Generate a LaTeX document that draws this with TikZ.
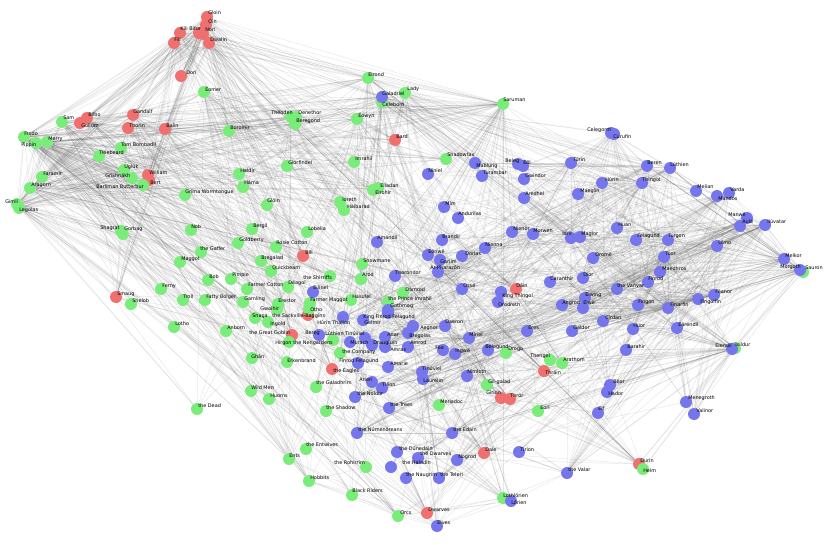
\documentclass[tikz,border=0pt]{standalone}
\usepackage{fontspec}
\setmainfont{DejaVu Sans}
\usetikzlibrary{backgrounds}
\definecolor{nr}{RGB}{240,112,112}
\definecolor{ng}{RGB}{122,236,122}
\definecolor{nb}{RGB}{118,118,236}
\pgfdeclarelayer{foreground}
\pgfsetlayers{background,main,foreground}
\newcommand\mknode[5]{\node[#1] (#2) at (#3) {};\begin{pgfonlayer}{foreground}\node[lbl] (#2-t) at (#4) {#5};\end{pgfonlayer}}
\newcommand\fan[2]{\foreach \ha in {#1}{\foreach \hb in {#2}{\draw[ed] (\ha) -- (\hb);}}}
\begin{document}
\begin{tikzpicture}[x=0.75pt,y=-0.75pt,
  nd/.style={circle,minimum size=9pt,inner sep=0pt,draw=none},
  rn/.style={nd,fill=nr}, gn/.style={nd,fill=ng}, bn/.style={nd,fill=nb},
  lbl/.style={anchor=west,inner sep=0pt,font=\fontsize{3.7pt}{4pt}\selectfont},
  ed/.style={draw=black!65,opacity=0.14,line width=0.35pt}]
\useasboundingbox (0,0) rectangle (830,545);
\begin{pgfonlayer}{background}
\fill[white] (0,0) rectangle (830,545);
\end{pgfonlayer}
% ---------- red ----------
\mknode{rn}{gloin}{207,17}{208,13}{Gloin}
\mknode{rn}{oin}{206,25}{208,21}{Óin}
\mknode{rn}{bifur}{199,33}{189,29}{Bifur}
\mknode{rn}{nori}{203,34}{205,30}{Nori}
\mknode{rn}{kili}{180,33}{180,29}{Kili}
\mknode{rn}{fili}{174,43}{174,40}{Fili}
\mknode{rn}{dwalin}{209,43}{210,40}{Dwalin}
\mknode{rn}{dori}{181,76}{186,73}{Dori}
\mknode{rn}{bilbo}{87,118}{88,115}{Bilbo}
\mknode{rn}{gollum}{80,123}{81,126}{Gollum}
\mknode{rn}{gandalf}{133,115}{133,112}{Gandalf}
\mknode{rn}{thorin}{128,128}{129,126}{Thorin}
\mknode{rn}{balin}{165,129}{166,126}{Balin}
\mknode{rn}{william}{148,175}{149,173}{William}
\mknode{rn}{bert}{149,180}{150,183}{Bert}
\mknode{rn}{bard}{395,140}{396,137}{Bard}
\mknode{rn}{bill}{303,256}{305,253}{Bill}
\mknode{rn}{smaug}{116,297}{117,294}{Smaug}
\mknode{rn}{sackville}{308,315}{272,316}{the Sackville-Baggins}
\mknode{rn}{goblin}{292,335}{249,333}{the Great Goblin}
\mknode{rn}{eagles}{332,369}{333,371}{the Eagles}
\mknode{rn}{dain}{516,289}{516,286}{Dáin}
\mknode{rn}{thrain}{544,371}{545,373}{Thráin}
\mknode{rn}{girion}{501,398}{486,393}{Girion}
\mknode{rn}{thror}{510,399}{510,396}{Thrór}
\mknode{rn}{dale}{484,453}{485,450}{Dale}
\mknode{rn}{dwarves}{427,513}{428,510}{Dwarves}
\mknode{rn}{durin}{639,464}{640,461}{Durin}
% ---------- green ----------
\mknode{gn}{eomer}{204,92}{205,89}{Éomer}
\mknode{gn}{sam}{62,122}{63,118}{Sam}
\mknode{gn}{frodo}{24,137}{24,134}{Frodo}
\mknode{gn}{pippin}{36,143}{21,145}{Pippin}
\mknode{gn}{merry}{47,142}{48,139}{Merry}
\mknode{gn}{tom}{121,148}{121,145}{Tom Bombadil}
\mknode{gn}{treebeard}{99,156}{99,153}{Treebeard}
\mknode{gn}{ugluk}{124,170}{124,167}{Uglúk}
\mknode{gn}{grishnakh}{132,178}{105,176}{Grishnákh}
\mknode{gn}{faramir}{42,177}{43,174}{Faramir}
\mknode{gn}{aragorn}{30,188}{31,185}{Aragorn}
\mknode{gn}{barliman}{143,185}{96,187}{Barliman Butterbur}
\mknode{gn}{gimli}{17,204}{5,202}{Gimli}
\mknode{gn}{legolas}{19,208}{19,210}{Legolas}
\mknode{gn}{grima}{185,195}{185,192}{Gríma Wormtongue}
\mknode{gn}{shagrat}{121,231}{100,228}{Shagrat}
\mknode{gn}{gorbag}{123,234}{124,229}{Gorbag}
\mknode{gn}{nob}{191,230}{191,227}{Nob}
\mknode{gn}{maggot}{180,262}{181,259}{Maggot}
\mknode{gn}{gaffer}{201,252}{200,249}{the Gaffer}
\mknode{gn}{ferny}{161,289}{162,286}{Ferny}
\mknode{gn}{shelob}{131,304}{132,301}{Shelob}
\mknode{gn}{troll}{183,300}{183,297}{Troll}
\mknode{gn}{lotho}{174,327}{175,324}{Lotho}
\mknode{gn}{haldir}{239,174}{240,171}{Haldir}
\mknode{gn}{hama}{243,187}{244,183}{Háma}
\mknode{gn}{gloinb}{267,205}{267,201}{Glóin}
\mknode{gn}{bergil}{252,229}{253,226}{Bergil}
\mknode{gn}{goldberry}{238,243}{239,240}{Goldberry}
\mknode{gn}{rosie}{276,247}{276,243}{Rosie Cotton}
\mknode{gn}{lobelia}{307,232}{308,229}{Lobelia}
\mknode{gn}{bregalad}{261,261}{261,258}{Bregalad}
\mknode{gn}{quickbeam}{271,271}{272,268}{Quickbeam}
\mknode{gn}{bob}{208,280}{209,277}{Bob}
\mknode{gn}{pimple}{231,279}{232,275}{Pimple}
\mknode{gn}{fcotton}{247,289}{248,285}{Farmer Cotton}
\mknode{gn}{deagol}{288,287}{288,283}{Déagol}
\mknode{gn}{shirriffs}{330,276}{303,278}{the Shirriffs}
\mknode{gn}{fatty}{205,300}{206,297}{Fatty Bolger}
\mknode{gn}{gamling}{243,302}{244,299}{Gamling}
\mknode{gn}{erestor}{278,304}{278,301}{Erestor}
\mknode{gn}{gwaihir}{277,309}{260,309}{Gwaihir}
\mknode{gn}{fmaggot}{310,303}{310,300}{Farmer Maggot}
\mknode{gn}{otho}{309,309}{310,310}{Otho}
\mknode{gn}{hasufel}{351,300}{352,297}{Hasufel}
\mknode{gn}{snowmane}{362,264}{363,261}{Snowmane}
\mknode{gn}{arod}{361,279}{362,275}{Arod}
\mknode{gn}{snaga}{255,318}{252,316}{Snaga}
\mknode{gn}{ingold}{268,322}{270,324}{Ingold}
\mknode{gn}{anborn}{226,331}{227,328}{Anborn}
\mknode{gn}{hirgon}{289,342}{275,343}{Hirgon}
\mknode{gn}{nengard}{333,340}{293,343}{the Nengardens}
\mknode{gn}{ghan}{252,358}{251,357}{Ghân}
\mknode{gn}{erkenbrand}{287,362}{287,361}{Erkenbrand}
\mknode{gn}{company}{340,353}{342,352}{the Company}
\mknode{gn}{elladan}{378,188}{380,186}{Elladan}
\mknode{gn}{elrohir}{373,190}{375,193}{Elrohir}
\mknode{gn}{ioreth}{340,202}{342,200}{Ioreth}
\mknode{gn}{halbarad}{344,210}{347,207}{Halbarad}
\mknode{gn}{elrond}{368,78}{368,75}{Elrond}
\mknode{gn}{lady}{405,93}{407,89}{Lady}
\mknode{gn}{celeborn}{382,102}{382,105}{Celeborn}
\mknode{gn}{theoden}{291,117}{271,113}{Théoden}
\mknode{gn}{denethor}{296,117}{298,113}{Denethor}
\mknode{gn}{beregond}{295,124}{296,121}{Beregond}
\mknode{gn}{eowyn}{357,119}{358,116}{Éowyn}
\mknode{gn}{boromir}{229,131}{230,128}{Boromir}
\mknode{gn}{glorfindel}{287,166}{288,163}{Glorfindel}
\mknode{gn}{imrahil}{354,162}{355,159}{Imrahil}
\mknode{gn}{saruman}{503,104}{503,100}{Saruman}
\mknode{gn}{shadowfax}{446,159}{447,155}{Shadowfax}
\mknode{gn}{damrod}{403,293}{405,290}{Damrod}
\mknode{gn}{prince}{388,302}{388,299}{the Prince Imrahil}
\mknode{gn}{drogo}{506,353}{508,349}{Drogo}
\mknode{gn}{thengel}{550,360}{530,356}{Thengel}
\mknode{gn}{arathorn}{562,363}{563,360}{Arathorn}
\mknode{gn}{gilgalad}{487,385}{488,382}{Gil-galad}
\mknode{gn}{meriadoc}{439,405}{440,402}{Meriadoc}
\mknode{gn}{eorl}{538,411}{540,408}{Eorl}
\mknode{gn}{helm}{643,469}{643,471}{Helm}
\mknode{gn}{isildur}{735,348}{735,345}{Isildur}
\mknode{gn}{sauron}{803,272}{805,268}{Sauron}
\mknode{gn}{lothlorien}{503,498}{503,496}{Lothlórien}
\mknode{gn}{orcs}{398,516}{400,513}{Orcs}
\mknode{gn}{wildmen}{251,391}{251,388}{Wild Men}
\mknode{gn}{huorns}{269,399}{270,396}{Huorns}
\mknode{gn}{galadhrim}{316,387}{316,383}{the Galadhrim}
\mknode{gn}{shadow}{326,411}{326,408}{the Shadow}
\mknode{gn}{dead}{197,409}{198,406}{the Dead}
\mknode{gn}{entwives}{306,449}{306,445}{the Entwives}
\mknode{gn}{ents}{289,459}{289,456}{Ents}
\mknode{gn}{rohirrim}{366,467}{334,463}{the Rohirrim}
\mknode{gn}{hobbits}{309,481}{310,478}{Hobbits}
\mknode{gn}{blackriders}{352,495}{352,491}{Black Riders}
% ---------- blue ----------
\mknode{bn}{galadriel}{382,97}{382,94}{Galadriel}
\mknode{bn}{niniel}{428,174}{428,171}{Níniel}
\mknode{bn}{mablung}{475,163}{476,166}{Mablung}
\mknode{bn}{turambar}{482,176}{483,173}{Turambar}
\mknode{bn}{beleg}{518,164}{505,161}{Beleg}
\mknode{bn}{eol}{523,166}{523,163}{Eöl}
\mknode{bn}{gwindor}{524,179}{525,176}{Gwindor}
\mknode{bn}{turin}{571,163}{573,160}{Túrin}
\mknode{bn}{celegorm}{611,133}{587,130}{Celegorm}
\mknode{bn}{curufin}{614,134}{613,137}{Curufin}
\mknode{bn}{beren}{647,166}{647,163}{Beren}
\mknode{bn}{luthien}{670,168}{670,165}{Lúthien}
\mknode{bn}{thingol}{642,183}{642,180}{Thingol}
\mknode{bn}{hurin}{602,183}{605,180}{Húrin}
\mknode{bn}{maeglin}{578,194}{580,191}{Maeglin}
\mknode{bn}{aredhel}{524,198}{525,194}{Aredhel}
\mknode{bn}{mim}{444,207}{445,204}{Mîm}
\mknode{bn}{anduilas}{458,218}{458,214}{Andurilas}
\mknode{bn}{nienor}{512,232}{513,229}{Nienor}
\mknode{bn}{morwen}{533,234}{533,231}{Morwen}
\mknode{bn}{idril}{571,238}{562,234}{Idril}
\mknode{bn}{maglor}{580,237}{581,234}{Maglor}
\mknode{bn}{brandir}{442,240}{442,237}{Brandir}
\mknode{bn}{nienna}{485,248}{485,245}{Nienna}
\mknode{bn}{eonwe}{428,255}{428,252}{Eönwë}
\mknode{bn}{gorlim}{440,260}{440,262}{Gorlim}
\mknode{bn}{dorlas}{462,256}{465,254}{Dorlas}
\mknode{bn}{arpharazon}{438,272}{430,268}{Ar-Pharazôn}
\mknode{bn}{orome}{593,258}{595,255}{Oromë}
\mknode{bn}{caranthir}{550,282}{550,279}{Caranthir}
\mknode{bn}{dior}{583,278}{583,275}{Dior}
\mknode{bn}{osse}{462,289}{463,286}{Ossë}
\mknode{bn}{kingthingol}{501,292}{502,296}{King Thingol}
\mknode{bn}{orodreth}{498,302}{498,305}{Orodreth}
\mknode{bn}{elwing}{585,298}{585,295}{Elwing}
\mknode{bn}{angrod}{562,305}{562,303}{Angrod}
\mknode{bn}{elwe}{583,308}{583,303}{Elwë}
\mknode{bn}{cirdan}{603,321}{605,318}{Círdan}
\mknode{bn}{aegnor}{413,326}{420,328}{Aegnor}
\mknode{bn}{daeron}{445,326}{445,322}{Daeron}
\mknode{bn}{bregolas}{408,333}{409,336}{Bregolas}
\mknode{bn}{amrod}{408,347}{410,343}{Amrod}
\mknode{bn}{fea}{443,350}{435,348}{Fëa}
\mknode{bn}{ingwe}{455,354}{455,351}{Ingwë}
\mknode{bn}{miriel}{469,338}{469,335}{Míriel}
\mknode{bn}{belegund}{488,350}{485,347}{Belegund}
\mknode{bn}{eres}{527,331}{528,328}{Eres}
\mknode{bn}{galdor}{572,331}{573,328}{Galdor}
\mknode{bn}{melian}{696,191}{697,187}{Melian}
\mknode{bn}{mandos}{717,196}{718,199}{Mandos}
\mknode{bn}{varda}{729,193}{730,190}{Varda}
\mknode{bn}{manwe}{747,218}{728,215}{Manwë}
\mknode{bn}{aule}{740,226}{742,222}{Aulë}
\mknode{bn}{iluvatar}{765,225}{767,222}{Ilúvatar}
\mknode{bn}{huan}{617,228}{618,225}{Huan}
\mknode{bn}{felagund}{636,240}{637,236}{Felagund}
\mknode{bn}{turgon}{668,240}{668,236}{Turgon}
\mknode{bn}{ulmo}{717,246}{718,243}{Ulmo}
\mknode{bn}{tuor}{664,257}{665,254}{Tuor}
\mknode{bn}{melkor}{784,259}{785,256}{Melkor}
\mknode{bn}{morgoth}{800,270}{780,267}{Morgoth}
\mknode{bn}{maedhros}{660,272}{662,269}{Maedhros}
\mknode{bn}{finrod}{648,282}{648,279}{Finrod}
\mknode{bn}{vanyar}{617,289}{617,286}{the Vanyar}
\mknode{bn}{feanor}{714,295}{715,292}{Fëanor}
\mknode{bn}{fingolfin}{698,299}{700,302}{Fingolfin}
\mknode{bn}{fingon}{638,305}{638,302}{Fingon}
\mknode{bn}{finarfin}{668,308}{670,305}{Finarfin}
\mknode{bn}{huor}{633,329}{633,326}{Huor}
\mknode{bn}{earendil}{677,328}{678,325}{Eärendil}
\mknode{bn}{barahir}{626,350}{627,347}{Barahir}
\mknode{bn}{elendil}{732,349}{715,346}{Elendil}
\mknode{bn}{beor}{610,385}{613,382}{Bëor}
\mknode{bn}{hador}{607,392}{608,394}{Hador}
\mknode{bn}{elf}{598,413}{598,409}{Elf}
\mknode{bn}{menegroth}{686,402}{688,398}{Menegroth}
\mknode{bn}{valinor}{694,414}{696,411}{Valinor}
\mknode{bn}{amandil}{377,242}{377,238}{Amandil}
\mknode{bn}{thorondor}{395,276}{395,273}{Thorondor}
\mknode{bn}{eilinel}{313,292}{313,288}{Eilinel}
\mknode{bn}{hurinthalion}{343,317}{317,323}{Húrin Thalion}
\mknode{bn}{gelmir}{363,320}{364,323}{Gelmir}
\mknode{bn}{kingfinrod}{388,313}{363,317}{King Finrod Felagund}
\mknode{bn}{gothmog}{388,310}{390,306}{Gothmog}
\mknode{bn}{bereg}{319,335}{305,333}{Bereg}
\mknode{bn}{luthtin}{350,342}{325,334}{Lúthien Tinúviel}
\mknode{bn}{anar}{385,337}{387,335}{Anar}
\mknode{bn}{murach}{365,338}{350,343}{Murach}
\mknode{bn}{draugluin}{372,345}{373,343}{Draugluin}
\mknode{bn}{amras}{385,347}{390,350}{Amras}
\mknode{bn}{finrodf}{358,363}{339,361}{Finrod Felagund}
\mknode{bn}{amarie}{388,367}{390,364}{Amarie}
\mknode{bn}{arien}{372,382}{359,380}{Arien}
\mknode{bn}{tilion}{382,388}{382,385}{Tilion}
\mknode{bn}{noldor}{355,397}{357,394}{the Noldor}
\mknode{bn}{trees}{389,408}{390,405}{the Trees}
\mknode{bn}{numenoreans}{357,433}{358,430}{the Númenóreans}
\mknode{bn}{tinuviel}{422,372}{422,369}{Tinúviel}
\mknode{bn}{laurelin}{423,379}{423,381}{Laurelin}
\mknode{bn}{nimloth}{467,376}{467,372}{Nimloth}
\mknode{bn}{edain}{452,433}{453,430}{the Edain}
\mknode{bn}{dunedain}{397,452}{399,449}{the Dúnedain}
\mknode{bn}{dwarvesb}{418,458}{420,454}{the Dwarves}
\mknode{bn}{nogrod}{457,460}{458,457}{Nogrod}
\mknode{bn}{tirion}{519,452}{520,450}{Tirion}
\mknode{bn}{valar}{567,473}{568,470}{the Valar}
\mknode{bn}{haladin}{391,467}{402,463}{the Haladin}
\mknode{bn}{naugrim}{406,478}{406,475}{the Naugrim}
\mknode{bn}{teleri}{439,478}{440,475}{the Teleri}
\mknode{bn}{lorien}{511,501}{511,503}{Lórien}
\mknode{bn}{elves}{437,526}{437,523}{Elves}
% ---------- edges ----------
\begin{pgfonlayer}{background}
\fan{gloin,oin,nori,bifur,kili,fili,dwalin}{bilbo,gandalf,thorin,balin,dori,bard,dain,thrain,thror,girion,dale,smaug,william,bert,elrond,gollum,eagles,goblin,dwarves,durin,frodo,gimli,aragorn,boromir,bill,galadriel,saruman}
\fan{gloin,oin,nori,bifur}{kili,fili,dwalin,dori}
\fan{bilbo,gandalf,thorin,balin}{dain,thrain,thror,girion,dale,smaug,eagles,goblin,bard,elrond,william,bert,gollum,dwarves,durin,saruman,shadowfax,tom,frodo,treebeard,galadriel,gwaihir,sackville,lobelia,otho,gaffer,hobbits,sam}
\fan{frodo}{sam,merry,pippin,gandalf,bilbo,gollum,aragorn,gimli,legolas,boromir,faramir,tom,treebeard,theoden,eomer,eowyn,denethor,elrond,galadriel,celeborn,saruman,glorfindel,haldir,barliman,shelob,bill,lobelia,gaffer,maggot,ferny,lotho,rosie,fatty,sackville,otho,gwaihir,fmaggot,fcotton,deagol,shirriffs,goldberry,erestor,shagrat,gorbag,grima,shadowfax,ugluk,grishnakh,nob,bob,troll,gamling,hirgon,hobbits,ents,orcs,blackriders,company,dwarves,elves,lady,lothlorien,eagles,sauron}
\fan{sam}{pippin,merry,gandalf,bilbo,gollum,aragorn,gimli,legolas,boromir,faramir,tom,treebeard,elrond,galadriel,shelob,bill,gaffer,maggot,rosie,fatty,lobelia,sackville,ferny,lotho,shagrat,gorbag,troll,hobbits,shirriffs,fcotton,bob,goldberry,elves,orcs,sauron,pimple}
\fan{merry,pippin}{gandalf,bilbo,aragorn,gimli,legolas,boromir,faramir,tom,treebeard,theoden,eomer,eowyn,denethor,beregond,ugluk,grishnakh,quickbeam,bregalad,saruman,grima,ioreth,halbarad,imrahil,barliman,gaffer,maggot,fatty,shirriffs,ents,huorns,hama,gamling,snowmane,arod,shadowfax,bergil,prince,wildmen,ghan,erkenbrand,fcotton,meriadoc,hirgon,elladan,elrohir}
\fan{aragorn}{gimli,legolas,gandalf,boromir,faramir,theoden,eomer,eowyn,denethor,elrond,galadriel,celeborn,arod,hasufel,shadowfax,glorfindel,haldir,halbarad,elladan,elrohir,ioreth,imrahil,prince,barliman,bill,saruman,sauron,isildur,elendil,arathorn,dead,rohirrim,company,numenoreans,dunedain,gilgalad,anborn,damrod,erkenbrand,gamling,hama,grima,ugluk}
\fan{gimli,legolas}{gandalf,boromir,faramir,theoden,eomer,eowyn,elrond,galadriel,celeborn,haldir,arod,hasufel,shadowfax,gloin,treebeard,saruman,ents,huorns,orcs,dwarves,elves,lothlorien,lady,durin,balin,company,dead,erkenbrand,gamling,imrahil,prince,quickbeam,grima}
\fan{faramir,boromir}{denethor,beregond,eowyn,anborn,damrod,gollum,imrahil,ioreth,bergil,hirgon,ingold,prince,theoden,eomer,gandalf,elrond}
\fan{saruman}{gandalf,theoden,eomer,eowyn,grima,treebeard,elrond,galadriel,celeborn,shadowfax,hama,gamling,erkenbrand,ents,huorns,orcs,rohirrim,wildmen,sauron,dead,ugluk,grishnakh,imrahil,nienor,turin,mim,kingthingol,dain,osse,miriel,drogo,thengel,edain,numenoreans,noldor,shadow,entwives,blackriders,hobbits,lothlorien,galadhrim,company,eagles,arod,snowmane,bard,lady,gilgalad,eorl,helm,meriadoc}
\fan{theoden,eomer,eowyn}{hama,gamling,erkenbrand,grima,snowmane,wildmen,rohirrim,thengel,eorl,helm,denethor,imrahil,prince,dead,ghan,hirgon,halbarad,ents,huorns,shadowfax,elladan,elrohir,drogo,meriadoc,arathorn}
\fan{treebeard}{quickbeam,bregalad,ents,entwives,huorns,orcs,galadhrim,tom,goldberry}
\fan{elrond,galadriel,celeborn,lady}{glorfindel,erestor,haldir,elladan,elrohir,gilgalad,isildur,elendil,arathorn,lothlorien,lorien,elves,noldor,teleri,finarfin,feanor,thingol,melian,turgon,idril,earendil,elwing,dior,luthien,beren,sauron,shadow,company,galadhrim,numenoreans}
\fan{iluvatar}{manwe,aule,varda,mandos,ulmo,melkor,morgoth,valar,valinor,orome,eonwe,nienna,osse,feanor,fingolfin,finarfin,elves,trees,laurelin,tinuviel,noldor,teleri,vanyar,ingwe,elwe,fea,numenoreans,edain,dwarvesb,arpharazon,earendil,tuor,elwing,menegroth,tirion,thingol,melian,sauron,elf,eres,miriel,arien,tilion,amarie,galdor,gothmog,cirdan,huan,maglor,caranthir,anduilas,amandil}
\fan{manwe,aule,varda}{valar,valinor,orome,eonwe,nienna,osse,feanor,fingolfin,finarfin,trees,laurelin,tinuviel,noldor,teleri,vanyar,ingwe,elwe,earendil,elwing,tirion,dwarvesb,arien,tilion,sauron,amarie,nimloth,numenoreans,arpharazon,elf,miriel}
\fan{mandos,ulmo}{tuor,turgon,osse,earendil,elwing,cirdan,valar,valinor,idril,teleri,feanor,fingolfin,melkor,miriel,fea,beren,luthien,huor,nienna,orome}
\fan{melkor,morgoth}{feanor,fingolfin,finarfin,turgon,huan,beren,luthien,hurin,turin,thingol,sauron,gothmog,draugluin,maedhros,fingon,valar,noldor,trees,laurelin,tinuviel,arpharazon,numenoreans,valinor,manwe,ulmo,aule,morwen,orcs,edain,hador,beor,earendil,elwing,kingthingol,thorondor,anar}
\fan{elendil,isildur}{numenoreans,amandil,arpharazon,gilgalad,sauron,dunedain,edain,valinor,menegroth,elf,eorl,durin,helm,beor,hador,barahir,huor,earendil,tuor,morgoth,aragorn,arathorn,elrond,gandalf,nimloth,valar,thengel,thrain}
\fan{beren,luthien}{huan,felagund,barahir,melian,thingol,kingthingol,turin,hurin,beleg,mablung,daeron,dior,elwing,morgoth,melkor,curufin,celegorm,gorlim,menegroth,finrod,maedhros,fingon,fingolfin,kingfinrod,luthtin,draugluin,sauron,gothmog,thorondor,bereg,hurinthalion,amras,amrod,nimloth,earendil,valar,mandos,eol,aredhel,eilinel,gelmir}
\fan{thingol}{melian,elwe,daeron,mablung,beleg,turin,hurin,morwen,nienor,dior,menegroth,finrod,finarfin,angrod,aegnor,galadriel,cirdan,orodreth,noldor,teleri,dwarvesb,nogrod,naugrim,elves,celegorm,curufin,maeglin,eol}
\fan{turin}{niniel,turambar,mablung,beleg,gwindor,brandir,dorlas,mim,hurin,morwen,nienor,thingol,orodreth,finrod,gorlim,barahir,huor,tuor,idril,beor,hador,eonwe,edain,haladin,anduilas,kingthingol}
\fan{hurin,morwen,nienor}{huor,turgon,fingon,maedhros,gothmog,melian,barahir,hador,beor,edain,haladin,dunedain,brandir,dorlas,mim,niniel,turambar,hurinthalion,bregolas,belegund}
\fan{celegorm,curufin}{huan,felagund,feanor,maedhros,maglor,caranthir,amrod,amras,finrod,dior,aredhel,eol,maeglin,kingfinrod,orodreth,fingon,celeborn}
\fan{feanor,fingolfin,finarfin}{maedhros,maglor,caranthir,amrod,amras,fingon,turgon,aredhel,finrod,angrod,aegnor,orodreth,fea,miriel,noldor,vanyar,teleri,trees,valar,ingwe,elwe,eonwe,gothmog,sauron,thorondor,galdor,eres,cirdan}
\fan{tuor,turgon,earendil,idril}{maeglin,ulmo,elwing,dior,cirdan,huor,valinor,valar,menegroth,elendil,numenoreans,glorfindel,galdor,eol,aredhel,amarie,elf,beor}
\fan{edain}{beor,hador,haladin,barahir,huor,numenoreans,dunedain,tuor,noldor,valar,bregolas,belegund}
\fan{dwarvesb}{nogrod,naugrim,menegroth,dwarves,elves,durin,mim,aule,teleri}
\fan{elves}{dwarves,orcs,lothlorien,lorien,teleri,noldor,vanyar,edain,hobbits,ents}
\fan{hobbits}{ents,entwives,orcs,blackriders,bilbo,merry,pippin,shirriffs,rohirrim,dwarves,wildmen}
\fan{ents}{entwives,quickbeam,bregalad,huorns,orcs,galadhrim,wildmen}
\fan{blackriders}{tom,maggot,shirriffs,barliman,elrond,orcs,gaffer}
\fan{lothlorien,lorien}{haldir,frodo,sam,company,dwarves,orcs,valar,shadow}
\fan{orcs}{ugluk,grishnakh,shagrat,gorbag,goblin,snaga,troll,shadow}
\fan{dain,thrain,thror,girion,dale}{smaug,durin,bard,dwarves,dwarvesb,nogrod,eagles,goblin,elf,meriadoc,drogo,arathorn}
\fan{noldor,trees,numenoreans,tinuviel,laurelin}{arien,tilion,amarie,nimloth,valar,teleri,vanyar,edain,elwe,ingwe,fea}
\fan{kingfinrod,hurinthalion,luthtin,draugluin,anar,amras,finrodf,gelmir,bereg,murach,gothmog}{amandil,thorondor,eilinel,aegnor,bregolas,daeron,miriel,osse,nienna}
\end{pgfonlayer}
\end{tikzpicture}
\end{document}
